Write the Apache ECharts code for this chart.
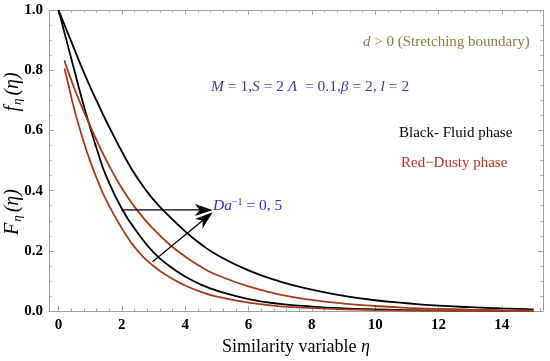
<!DOCTYPE html>
<html><head><meta charset="utf-8">
<script src="https://cdn.jsdelivr.net/npm/echarts@6/dist/echarts.min.js"></script>
<style>html,body{margin:0;padding:0;background:#fff}#c{width:550px;height:361px}</style>
</head><body><div id="c"></div>
<script>
// ---- data ----
const etaFluid = [0,0.25,0.5,0.75,1,1.25,1.5,2,2.5,3,3.5,4,4.5,5,6,7,8,9,10,11,12,13,14,15];
const fluidDa0 = [1,0.935,0.87,0.805,0.745,0.688,0.633,0.53,0.44,0.37,0.315,0.265,0.222,0.187,0.135,0.098,0.071,0.051,0.036,0.026,0.018,0.013,0.009,0.006];
const fluidDa5 = [1,0.9,0.8,0.70,0.61,0.525,0.45,0.34,0.26,0.195,0.15,0.115,0.088,0.068,0.04,0.024,0.015,0.009,0.0055,0.0035,0.0022,0.0015,0.001,0.0007];
const etaDust = [0.19,0.25,0.5,0.75,1,1.25,1.5,2,2.5,3,3.5,4,4.5,5,6,7,8,9,10,11,12,13,14,15];
const dustDa0 = [0.833,0.812,0.74,0.675,0.615,0.557,0.503,0.408,0.333,0.272,0.222,0.181,0.147,0.12,0.082,0.055,0.037,0.025,0.017,0.011,0.0075,0.005,0.0034,0.0023];
const dustDa5 = [0.806,0.78,0.67,0.578,0.498,0.43,0.37,0.275,0.2,0.15,0.113,0.085,0.064,0.048,0.028,0.016,0.01,0.006,0.0035,0.002,0.0013,0.0008,0.0005,0.0003];
const xMajor = [0,2,4,6,8,10,12,14];
const xMinor = [0.4,0.8,1.2,1.6,2.4,2.8,3.2,3.6,4.4,4.8,5.2,5.6,6.4,6.8,7.2,7.6,8.4,8.8,9.2,9.6,10.4,10.8,11.2,11.6,12.4,12.8,13.2,13.6,14.4,14.8,15.2];
const arrowH = [[1.99,0.336],[4.87,0.336]];
const arrowD = [[2.97,0.164],[4.87,0.328]];

// ---- styling ----
const serif = "'Liberation Serif','Times New Roman',serif";
const gray = '#a0a0a0';
const redC = '#9e3e1e';
const pairs = (xs, ys) => xs.map((x, i) => [x, ys[i]]);

function xAx(pos, vals, len, labels, line) {
  return {
    type: 'value', position: pos, min: -0.3, max: 15.3, gridIndex: 0,
    axisLine: { show: line, onZero: false, lineStyle: { color: gray, width: 1 } },
    axisTick: { show: true, inside: true, length: len, customValues: vals, lineStyle: { color: gray } },
    axisLabel: labels ? { show: true, customValues: vals, fontFamily: serif, fontWeight: 'bold', fontSize: 15, color: '#000', margin: 7 } : { show: false },
    splitLine: { show: false }
  };
}
function yAx(pos, labels) {
  return {
    type: 'value', position: pos, min: 0, max: 1, interval: 0.2,
    axisLine: { show: true, onZero: false, lineStyle: { color: gray, width: 1 } },
    axisTick: { show: true, inside: true, length: 5, lineStyle: { color: gray } },
    minorTick: { show: true, splitNumber: 4, length: 2.5, lineStyle: { color: gray } },
    axisLabel: labels ? { show: true, fontFamily: serif, fontWeight: 'bold', fontSize: 15, color: '#000', margin: 6, formatter: v => v.toFixed(1) } : { show: false },
    splitLine: { show: false }, minorSplitLine: { show: false }
  };
}

const xb = xAx('bottom', xMajor, 5, true, true);
xb.name = 'Similarity variable {i|η}';
xb.nameLocation = 'middle';
xb.nameGap = 26;
xb.nameTextStyle = { fontFamily: serif, fontSize: 18, color: '#000',
  rich: { i: { fontFamily: serif, fontSize: 18, fontStyle: 'italic', color: '#000' } } };

function curve(xs, ys, color) {
  return { type: 'line', data: pairs(xs, ys), showSymbol: false, smooth: true, silent: true,
    lineStyle: { color: color, width: 1.8 }, itemStyle: { color: color }, z: 3 };
}

const chart = echarts.init(document.getElementById('c'), null, { renderer: 'canvas' });
chart.setOption({
  animation: false,
  backgroundColor: '#fff',
  grid: { left: 49, right: 7, top: 10, bottom: 46, containLabel: false },
  xAxis: [xb, xAx('bottom', xMinor, 2.5, false, false), xAx('top', xMajor, 5, false, true), xAx('top', xMinor, 2.5, false, false)],
  yAxis: [yAx('left', true), yAx('right', false)],
  series: [
    curve(etaFluid, fluidDa0, '#000'),
    curve(etaFluid, fluidDa5, '#000'),
    curve(etaDust, dustDa0, redC),
    curve(etaDust, dustDa5, redC)
  ]
});

// ---- annotations ----
function arrowEls(a, id) {
  const p0 = chart.convertToPixel({ gridIndex: 0 }, a[0]);
  const p1 = chart.convertToPixel({ gridIndex: 0 }, a[1]);
  const dx = p1[0] - p0[0], dy = p1[1] - p0[1];
  const L = Math.hypot(dx, dy);
  const ux = dx / L, uy = dy / L, nx = -uy, ny = ux;
  const hl = 18, hw = 6, notch = 13;
  const T = p1;
  const B1 = [T[0] - hl * ux + hw * nx, T[1] - hl * uy + hw * ny];
  const B2 = [T[0] - hl * ux - hw * nx, T[1] - hl * uy - hw * ny];
  const N = [T[0] - notch * ux, T[1] - notch * uy];
  return [
    { type: 'line', id: id + 'l', shape: { x1: p0[0], y1: p0[1], x2: N[0], y2: N[1] }, style: { stroke: '#000', lineWidth: 1.2 }, z: 10 },
    { type: 'polygon', id: id + 'h', shape: { points: [T, B1, N, B2] }, style: { fill: '#000' }, z: 10 }
  ];
}
function txt(id, x, y, text, color, size, rich, center, rot) {
  const r = {};
  Object.keys(rich || {}).forEach(k => { r[k] = Object.assign({ fontFamily: serif, fontSize: size, fill: color }, rich[k]); });
  const al = center ? 'center' : 'left';
  return { type: 'text', id: id, x: x, y: y, z: 20, rotation: rot || 0,
    style: { text: text, fill: color, fontFamily: serif, fontSize: size,
      align: al, verticalAlign: 'middle', textAlign: al, textVerticalAlign: 'middle', rich: r } };
}
const it = { fontStyle: 'italic' };
const yLab = {
  i: { fontStyle: 'italic', fontSize: 20, lineHeight: 22, padding: [0, 1, 0, 1] },
  s: { fontStyle: 'italic', fontSize: 13, verticalAlign: 'bottom', lineHeight: 12, padding: [0, 2, 0, 0] }
};
const els = [].concat(
  arrowEls(arrowH, 'a1'), arrowEls(arrowD, 'a2'),
  [
    txt('t1', 363, 42, '{i|d}{n| > 0 (Stretching boundary)}', '#8a7a48', 15, { i: it, n: {} }),
    txt('t2', 211, 87, '{i|M}{n| = 1,}{i|S}{n| = 2 }{i|Λ}{n|  = 0.1,}{i|β}{n| = 2, }{i|l}{n| = 2}', '#4f3488', 15.5, { i: it, n: {} }),
    txt('t3', 399, 133, 'Black- Fluid phase', '#000', 15, {}),
    txt('t4', 401, 163, 'Red−Dusty phase', '#b23224', 15, {}),
    txt('t5', 213, 206, '{i|Da}{s|−1}{n| = 0, 5}', '#2c2cc8', 15.5, { i: Object.assign({ lineHeight: 18 }, it), s: { fontSize: 10, verticalAlign: 'top', lineHeight: 10 }, n: { lineHeight: 18 } }),
    txt('t6', 13, 92, '{i|f}{s|η}{i|(η)}', '#000', 20, yLab, true, Math.PI / 2),
    txt('t7', 13, 212, '{i|F}{s|η}{i|(η)}', '#000', 20, yLab, true, Math.PI / 2)
  ]
);
chart.setOption({ graphic: { elements: els } });
</script>
</body></html>
